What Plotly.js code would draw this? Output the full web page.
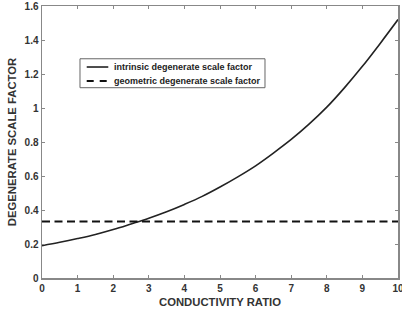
<!DOCTYPE html>
<html><head><meta charset="utf-8">
<script src="https://cdn.plot.ly/plotly-3.0.1.min.js"></script>
<style>body{margin:0;background:#fff}#chart{width:402px;height:313px}</style>
</head><body><div id="chart"></div>
<script>
var conductivityRatio = [0,0.5,1,1.5,2,2.5,3,3.5,4,4.5,5,5.5,6,6.5,7,7.5,8,8.5,9,9.5,10];
var intrinsicFactor = [0.19,0.21,0.232,0.256,0.285,0.318,0.352,0.39,0.433,0.48,0.535,0.595,0.66,0.735,0.815,0.905,1.005,1.12,1.245,1.38,1.52];
var geometricX = [0,10];
var geometricFactor = [0.333,0.333];
var seriesNames = ['intrinsic degenerate scale factor','geometric degenerate scale factor'];

var fam = 'Liberation Sans, Arial, sans-serif';
var traces = [
  {x: conductivityRatio, y: intrinsicFactor, name: seriesNames[0], mode:'lines',
   line:{color:'#222', width:1.6, shape:'spline'}},
  {x: geometricX, y: geometricFactor, name: seriesNames[1], mode:'lines',
   line:{color:'#111', width:2, dash:'8px,4.5px'}}
];
var axFont = {family:fam, size:10, color:'#333', weight:'bold'};
var titleFont = {family:fam, size:11.3, color:'#333', weight:'bold'};
var legFont = {family:fam, size:9, color:'#222', weight:'bold'};

// custom legend (box, samples, labels) in paper coordinates
var legBox = {x0:0.1067, x1:0.6264, y0:0.6996, y1:0.806};
var legRows = [0.7757, 0.7243];
var legSample = [0.1256, 0.1862];
var legTextX = 0.1966;
var shapes = [
  {type:'rect', xref:'paper', yref:'paper', x0:legBox.x0, x1:legBox.x1, y0:legBox.y0, y1:legBox.y1,
   line:{color:'#666', width:1}, fillcolor:'#fff', layer:'above'},
  {type:'line', xref:'paper', yref:'paper', x0:legSample[0], x1:legSample[1], y0:legRows[0], y1:legRows[0],
   line:{color:'#222', width:1.6}},
  {type:'line', xref:'paper', yref:'paper', x0:legSample[0], x1:legSample[1], y0:legRows[1], y1:legRows[1],
   line:{color:'#111', width:2, dash:'7px,6px'}}
];
var annotations = seriesNames.map(function(n,i){
  return {xref:'paper', yref:'paper', x:legTextX, y:legRows[i], xanchor:'left', yanchor:'middle',
    text:n, showarrow:false, font:legFont};
});

var layout = {
  width:402, height:313,
  margin:{l:42, r:4, t:6, b:35},
  paper_bgcolor:'#fff', plot_bgcolor:'#fff',
  showlegend:false,
  shapes:shapes, annotations:annotations,
  xaxis:{range:[0,10], dtick:1, tick0:0, showgrid:false, zeroline:false,
    showline:true, mirror:'ticks', linecolor:'#888', linewidth:1.5,
    ticks:'inside', ticklen:3, tickcolor:'#888', tickfont:axFont, ticklabeloverflow:'allow',
    title:{text:'CONDUCTIVITY RATIO', font:titleFont, standoff:5}},
  yaxis:{range:[0,1.6], dtick:0.2, tick0:0, showgrid:false, zeroline:false,
    showline:true, mirror:'ticks', linecolor:'#888', linewidth:1.5,
    ticks:'inside', ticklen:3, tickcolor:'#888', tickfont:axFont,
    title:{text:'DEGENERATE SCALE FACTOR', font:titleFont, standoff:5}}
};
Plotly.newPlot('chart', traces, layout, {displayModeBar:false, staticPlot:true});
</script></body></html>
